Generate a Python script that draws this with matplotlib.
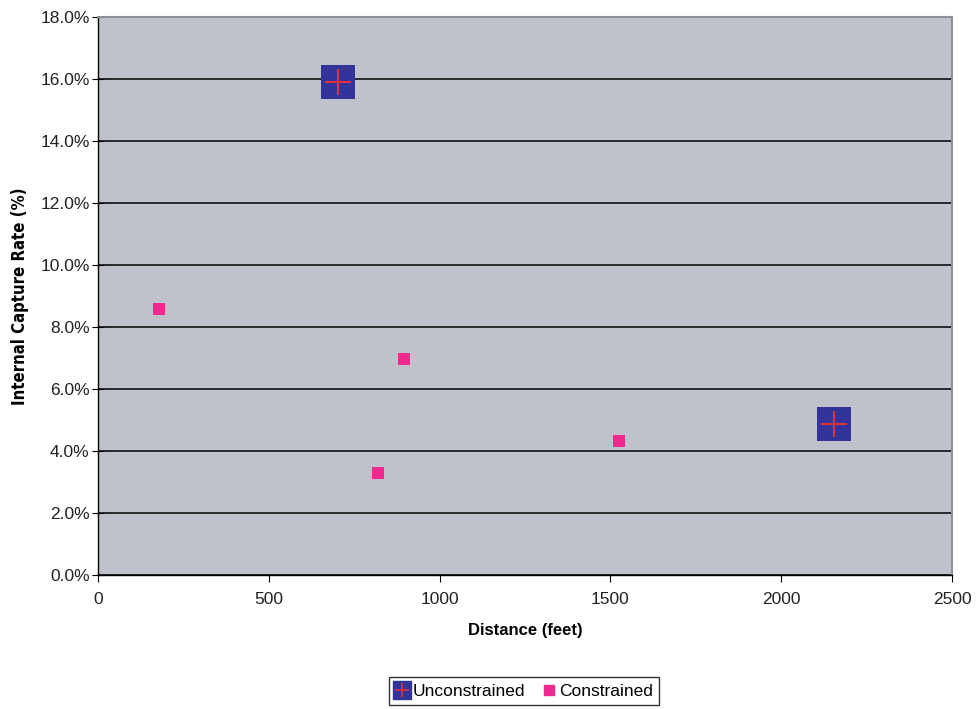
import matplotlib
matplotlib.use("Agg")
import matplotlib.pyplot as plt
from matplotlib.ticker import FuncFormatter, MultipleLocator

plt.rcParams['font.family'] = ['Liberation Sans', 'DejaVu Sans']

# Data
unc_x = [702, 2155]
unc_y = [15.9, 4.87]
con_x = [179, 896, 820, 1525]
con_y = [8.58, 6.97, 3.29, 4.32]
x_label = "Distance (feet)"
y_label = "Internal Capture Rate (%)"
series_names = ["Unconstrained", "Constrained"]

fig = plt.figure(figsize=(9.78, 7.09), dpi=100)
ax = fig.add_axes([98/978, 1-575/709, (952-98)/978, (575-17)/709])
ax.set_facecolor('#c0c2cb')

ax.set_xlim(0, 2500)
ax.set_ylim(0, 18)
ax.xaxis.set_major_locator(MultipleLocator(500))
ax.yaxis.set_major_locator(MultipleLocator(2))
ax.yaxis.set_major_formatter(FuncFormatter(lambda v, p: f"{v:.1f}%"))

ax.grid(axis='y', color='black', linewidth=1.1)
ax.set_axisbelow(True)

for s in ['left', 'bottom']:
    ax.spines[s].set_color('black')
    ax.spines[s].set_linewidth(1.0)
for s in ['top', 'right']:
    ax.spines[s].set_color('#8c9098')
    ax.spines[s].set_linewidth(1.5)

ax.tick_params(axis='y', direction='inout', length=8, labelsize=12.5, colors='black', pad=2)
ax.tick_params(axis='x', direction='out', length=5, labelsize=12.5, colors='black', pad=7)
for lbl in ax.get_xticklabels() + ax.get_yticklabels():
    lbl.set_color('#222222')

# Unconstrained: navy square with red cross
ax.scatter(unc_x, unc_y, marker='s', s=24**2, color='#333399', zorder=3, linewidths=0)
ax.scatter(unc_x, unc_y, marker='+', s=19**2, color='#e0303a', linewidths=1.5, zorder=4)
# Constrained: magenta squares
ax.scatter(con_x, con_y, marker='s', s=8.5**2, color='#ee2a8e', zorder=3, linewidths=0)

ax.set_xlabel(x_label, fontsize=12, fontweight='bold', labelpad=12)
ax.set_ylabel(y_label, fontsize=12, fontweight='bold', labelpad=8, family=['DejaVu Sans'], fontstretch='condensed')

# Legend
from matplotlib.lines import Line2D
h_unc = (Line2D([], [], marker='s', markersize=13, color='#333399', linestyle='None'),
         Line2D([], [], marker='+', markersize=10, color='#e0303a', markeredgewidth=1.2, linestyle='None'))
h_con = Line2D([], [], marker='s', markersize=7, color='#ee2a8e', linestyle='None')
leg = fig.legend([h_unc, h_con], series_names, loc='center', bbox_to_anchor=(524/978, 1-691/709),
                 ncol=2, frameon=True, fancybox=False, edgecolor='black', fontsize=12.5,
                 handlelength=0.8, handletextpad=0.2, columnspacing=1.0, borderpad=0.35)
leg.get_frame().set_linewidth(1.0)

fig.savefig('out.png', dpi=100)
